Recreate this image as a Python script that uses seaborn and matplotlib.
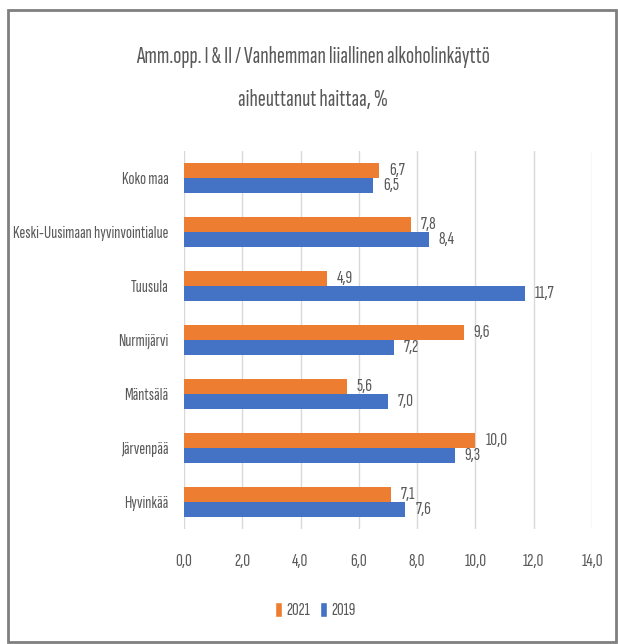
import matplotlib
matplotlib.use("Agg")
import matplotlib.pyplot as plt
import seaborn as sns
import pandas as pd
from matplotlib.patches import Rectangle, Patch

categories = ["Koko maa", "Keski-Uusimaan hyvinvointialue", "Tuusula", "Nurmijärvi",
              "Mäntsälä", "Järvenpää", "Hyvinkää"]
values_2021 = [6.7, 7.8, 4.9, 9.6, 5.6, 10.0, 7.1]
values_2019 = [6.5, 8.4, 11.7, 7.2, 7.0, 9.3, 7.6]
years = ["2021", "2019"]
xticks = [0, 2, 4, 6, 8, 10, 12, 14]
title_lines = ["Amm.opp. I & II / Vanhemman liiallinen alkoholinkäyttö",
               "aiheuttanut haittaa, %"]

sns.set_style("white")
FONT = ["Sofia Sans Extra Condensed", "Fira Sans Extra Condensed", "DejaVu Sans"]
plt.rcParams["font.family"] = FONT
TXT = "#595959"
colors = {"2021": "#ED7D31", "2019": "#4472C4"}

df = pd.DataFrame({
    "Alue": categories * 2,
    "Vuosi": ["2021"] * len(categories) + ["2019"] * len(categories),
    "Arvo": values_2021 + values_2019,
})

fig = plt.figure(figsize=(6.18, 6.44), dpi=100)
renderer = fig.canvas.get_renderer()


def fit_size(text, target_px, base=12):
    t = fig.text(0, 0, text, fontsize=base)
    w = t.get_window_extent(renderer).width
    t.remove()
    return base * target_px / w


title_fs = fit_size(title_lines[0], 355)
label_fs = fit_size(categories[1], 156)
tick_fs = fit_size("10,0", 22)
legend_fs = fit_size("2021", 24)

ax = fig.add_axes([0.2977, 0.1786, 0.6602, 0.5869])

sns.barplot(data=df, y="Alue", x="Arvo", hue="Vuosi", hue_order=years,
            order=categories, palette=colors, orient="h", width=0.54,
            ax=ax, legend=False, saturation=1, linewidth=0)

ax.set_xlim(0, 14)
ax.set_xticks(xticks)
ax.set_xticklabels([f"{t:.1f}".replace(".", ",") for t in xticks], color=TXT, fontsize=tick_fs)
ax.tick_params(axis="y", labelsize=label_fs, labelcolor=TXT, length=0, pad=11)
ax.tick_params(axis="x", length=0, pad=18)
ax.set_xlabel("")
ax.set_ylabel("")
ax.grid(axis="x", color="#D9D9D9", linewidth=1)
ax.set_axisbelow(True)
for s in ax.spines.values():
    s.set_visible(False)

for cont, yr in zip(ax.containers, years):
    labels = [f"{b.get_width():.1f}".replace(".", ",") for b in cont]
    ax.bar_label(cont, labels=labels, padding=7, color=TXT, fontsize=tick_fs,
                 label_type="edge")
for t in ax.texts:
    x, y = t.get_position()
    t.set_position((x, y + 0.05))

fig.text(0.507, 1 - 57 / 644, title_lines[0], ha="center", va="center",
         fontsize=title_fs, color=TXT)
fig.text(0.507, 1 - 100 / 644, title_lines[1], ha="center", va="center",
         fontsize=title_fs, color=TXT)

handles = [Patch(facecolor=colors[y], label=y) for y in years]
fig.legend(handles=handles, loc="center", bbox_to_anchor=(0.51, 1 - 610 / 644), ncol=2,
           frameon=False, fontsize=legend_fs, handlelength=0.4, handleheight=0.9,
           handletextpad=0.25, columnspacing=0.5, labelcolor=TXT)

fig.patches.append(Rectangle((8 / 618, 2 / 644), 608 / 618, 632 / 644,
                             transform=fig.transFigure, fill=False,
                             edgecolor="#7F7F7F", linewidth=2))

fig.savefig("out.png", dpi=100)
